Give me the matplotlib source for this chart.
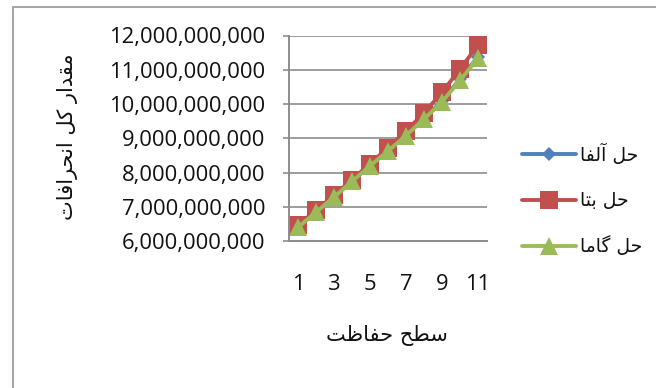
import matplotlib
matplotlib.use("Agg")
import matplotlib.pyplot as plt
from matplotlib.ticker import FuncFormatter, MultipleLocator
from matplotlib.lines import Line2D

# Persian strings are stored pre-shaped (Arabic presentation forms, display
# order) because matplotlib does not perform Arabic shaping or bidi.
series_names = [
    "\uFE8E\uFED4\uFEDF\uFE81 \uFEDE\uFEA3",   # حل آلفا
    "\uFE8E\uFE98\uFE91 \uFEDE\uFEA3",         # حل بتا
    "\uFE8E\uFEE3\uFE8E\uFB94 \uFEDE\uFEA3",   # حل گاما
]
x_title = "\uFE96\uFEC7\uFE8E\uFED4\uFEA3 \uFEA2\uFEC4\uFEB3"   # سطح حفاظت
y_title = ("\uFE95\uFE8E\uFED3\uFE8D\uFEAE\uFEA4\uFEE7\uFE8D "
           "\uFEDE\uFB90 \uFEAD\uFE8D\uFEAA\uFED8\uFEE3")          # مقدار کل انحرافات

levels = [1, 2, 3, 4, 5, 6, 7, 8, 9, 10, 11]
x_tick_labels = ["1", "3", "5", "7", "9", "11"]

alpha_vals = [6.41e9, 6.85e9, 7.29e9, 7.75e9, 8.20e9, 8.64e9,
              9.10e9, 9.58e9, 10.09e9, 10.73e9, 11.38e9]
beta_vals = [6.46e9, 6.90e9, 7.33e9, 7.79e9, 8.26e9, 8.72e9,
             9.21e9, 9.74e9, 10.34e9, 11.02e9, 11.72e9]
gamma_vals = [6.40e9, 6.84e9, 7.28e9, 7.74e9, 8.19e9, 8.63e9,
              9.08e9, 9.56e9, 10.06e9, 10.69e9, 11.33e9]

colors = ["#4F81BD", "#C0504D", "#9BBB59"]
markers = ["D", "s", "^"]
msizes = [7, 13, 12.5]

W, H = 656, 388
fig = plt.figure(figsize=(W / 100, H / 100), dpi=100)
fig.patch.set_facecolor("white")

def fx(px):
    return px / W

def fy(py):
    return 1 - py / H

ax = fig.add_axes([fx(289), fy(241), fx(487) - fx(289), fy(35.5) - fy(241)])

handles = []
for vals, name, c, m, ms in zip([alpha_vals, beta_vals, gamma_vals],
                                series_names, colors, markers, msizes):
    h, = ax.plot(levels, vals, color=c, lw=2.8, marker=m, ms=ms,
                 markeredgewidth=0, solid_capstyle="round", label=name)
    handles.append(h)

grid_c = "#8C8C8C"
ax.set_xlim(0.5, 11.5)
ax.set_ylim(6e9, 12e9)
ax.yaxis.set_major_locator(MultipleLocator(1e9))
ax.yaxis.set_major_formatter(FuncFormatter(lambda v, p: f"{v:,.0f}"))
ax.set_xticks([int(t) for t in x_tick_labels])
ax.set_xticklabels(x_tick_labels)
ax.grid(axis="y", color=grid_c, lw=1.2)
ax.set_axisbelow(True)
for s in ["top", "right"]:
    ax.spines[s].set_visible(False)
for s in ["left", "bottom"]:
    ax.spines[s].set_color(grid_c)
    ax.spines[s].set_linewidth(1.4)
ax.tick_params(axis="y", length=4, width=1.2, color=grid_c, pad=13,
               labelsize=15.8, labelcolor="#111111")
ax.tick_params(axis="x", length=0, pad=24, labelsize=15.8, labelcolor="#111111")
for lab in ax.get_xticklabels() + ax.get_yticklabels():
    lab.set_fontfamily(["Open Sans", "DejaVu Sans"])

fig.text(fx(387), fy(336), x_title, ha="center", va="center",
         fontsize=15, family="DejaVu Sans", color="#111111")
fig.text(fx(67), fy(137), y_title, ha="center", va="center", rotation=90,
         fontsize=15, family="DejaVu Sans", color="#111111")

leg = fig.legend(handles=handles, loc="center left",
                 bbox_to_anchor=(fx(522), fy(200)), frameon=False,
                 prop={"family": "DejaVu Sans", "size": 13.5},
                 handlelength=2.9, handletextpad=0.2, labelspacing=1.4,
                 borderpad=0, borderaxespad=0)
for t in leg.get_texts():
    t.set_color("#111111")

# chart area border (left and top edges)
border = Line2D([fx(12.5), fx(12.5), fx(W + 2)], [fy(H + 2), fy(6.5), fy(6.5)],
                transform=fig.transFigure, color="#A6A6A6", lw=1.5)
fig.add_artist(border)

fig.savefig("out.png", dpi=100)
